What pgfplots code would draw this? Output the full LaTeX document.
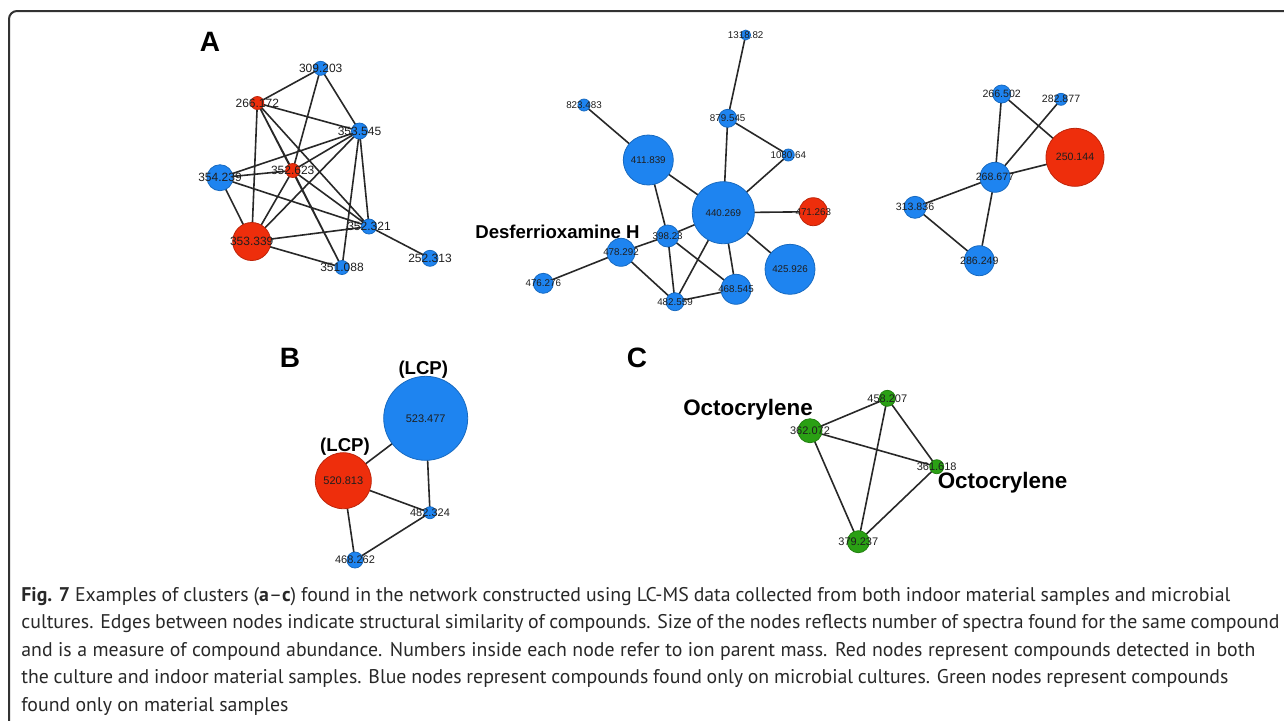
\documentclass[border=0pt]{standalone}
\usepackage{pgfplots}
\pgfplotsset{compat=1.18}
\usepackage{pgfplotstable}
\usepackage{fontspec}
\setmainfont{PT Sans}
\newfontfamily\netfont{Liberation Sans}

\definecolor{nodeblue}{RGB}{30,132,240}
\definecolor{nodered}{RGB}{238,46,12}
\definecolor{nodegreen}{RGB}{42,160,20}
\definecolor{edgegray}{RGB}{40,40,40}
\definecolor{labelgray}{RGB}{30,30,30}
\definecolor{framegray}{RGB}{50,50,50}
\definecolor{captiongray}{RGB}{40,40,40}

% node tables: position (px), radius (px), colour class (0 blue, 1 red, 2 green), parent mass
\pgfplotstableread{
x y r c label
320.7 68.3 7 0 309.203
257.3 103 6.5 1 266.172
359.5 131 8 0 353.545
220 177.7 13 0 354.239
292.7 170.5 7 1 352.623
369 226.5 7.5 0 352.321
251.7 241.5 19 1 353.339
342 267.5 7 0 351.088
430 258.3 8 0 252.313
}\clusterAone

\pgfplotstableread{
x y r c label
745.7 35 5 0 1318.82
584 105 6 0 823.483
727.7 118.3 9 0 879.545
788.3 155 6 0 1080.64
648.3 160 25 0 411.839
723.3 212.7 31 0 440.269
813.3 211.7 14 1 471.263
667.7 236 11 0 398.23
621 252.3 14 0 478.292
543.3 283.3 10 0 476.276
675 301.7 9 0 482.559
736 289.3 15 0 468.545
790 269.3 25 0 425.926
}\clusterAtwo

\pgfplotstableread{
x y r c label
1001.7 94 9 0 266.502
1061 99.3 6 0 282.877
1075 157.3 29 1 250.144
995 177.3 15 0 268.677
915 207.3 11 0 313.836
979.3 260.7 15 0 286.249
}\clusterAthree

\pgfplotstableread{
x y r c label
425.7 418.3 42 0 523.477
343.3 480.7 28 1 520.813
430 512.7 6 0 482.324
355 560 8 0 468.262
}\clusterB

\pgfplotstableread{
x y r c label
887.3 398.3 8 2 458.207
810 430.7 12 2 362.072
936.7 466.7 7 2 361.618
858.3 541.7 11 2 379.237
}\clusterC

\pgfplotsset{
  edge/.style={draw=edgegray, line width=0.8pt, no marks, forget plot},
  netnodes/.style={
    scatter, only marks, mark=*,
    point meta=\thisrow{c},
    visualization depends on={0.5*\thisrow{r} \as \rad},
    scatter/@pre marker code/.append style={/tikz/mark size=\rad},
    forget plot,
  },
  netlabels/.style={
    draw=none, no marks, forget plot,
    point meta=explicit symbolic,
    nodes near coords,
    every node near coord/.style={anchor=center, inner sep=0pt,
      text=labelgray, font=\netfont\fontsize{#1}{#1}\selectfont},
  },
}

\begin{document}
\begin{tikzpicture}
\begin{axis}[
  name=ax,
  width=642pt, height=360pt, scale only axis,
  xmin=0, xmax=1284, ymin=0, ymax=720,
  y dir=reverse,
  hide axis, clip=false,
  unbounded coords=jump,
  colormap={net}{rgb255(0)=(30,132,240) rgb255(1)=(238,46,12) rgb255(2)=(42,160,20)},
  point meta min=0, point meta max=2,
]
% frame
\draw[line width=1pt, draw=framegray, rounded corners=4pt]
  (axis cs:9,740) -- (axis cs:9,11) -- (axis cs:1300,11);

% ---- cluster A (left) edges
\addplot[edge] coordinates {
(320.7,68.3) (257.3,103) (nan,nan)
(320.7,68.3) (359.5,131) (nan,nan)
(320.7,68.3) (292.7,170.5) (nan,nan)
(257.3,103) (359.5,131) (nan,nan)
(257.3,103) (251.7,241.5) (nan,nan)
(257.3,103) (292.7,170.5) (nan,nan)
(257.3,103) (369,226.5) (nan,nan)
(257.3,103) (342,267.5) (nan,nan)
(359.5,131) (220,177.7) (nan,nan)
(359.5,131) (292.7,170.5) (nan,nan)
(359.5,131) (251.7,241.5) (nan,nan)
(359.5,131) (369,226.5) (nan,nan)
(359.5,131) (342,267.5) (nan,nan)
(220,177.7) (292.7,170.5) (nan,nan)
(220,177.7) (369,226.5) (nan,nan)
(220,177.7) (251.7,241.5) (nan,nan)
(292.7,170.5) (251.7,241.5) (nan,nan)
(292.7,170.5) (369,226.5) (nan,nan)
(292.7,170.5) (342,267.5) (nan,nan)
(251.7,241.5) (369,226.5) (nan,nan)
(251.7,241.5) (342,267.5) (nan,nan)
(369,226.5) (430,258.3)
};
% ---- cluster A (middle) edges
\addplot[edge] coordinates {
(745.7,35) (727.7,118.3) (nan,nan)
(584,105) (648.3,160) (nan,nan)
(727.7,118.3) (723.3,212.7) (nan,nan)
(727.7,118.3) (788.3,155) (nan,nan)
(788.3,155) (723.3,212.7) (nan,nan)
(648.3,160) (723.3,212.7) (nan,nan)
(648.3,160) (667.7,236) (nan,nan)
(723.3,212.7) (813.3,211.7) (nan,nan)
(723.3,212.7) (790,269.3) (nan,nan)
(723.3,212.7) (667.7,236) (nan,nan)
(723.3,212.7) (736,289.3) (nan,nan)
(723.3,212.7) (675,301.7) (nan,nan)
(667.7,236) (621,252.3) (nan,nan)
(667.7,236) (675,301.7) (nan,nan)
(667.7,236) (736,289.3) (nan,nan)
(621,252.3) (543.3,283.3) (nan,nan)
(621,252.3) (675,301.7) (nan,nan)
(675,301.7) (736,289.3)
};
% ---- cluster A (right) edges
\addplot[edge] coordinates {
(1001.7,94) (995,177.3) (nan,nan)
(1001.7,94) (1075,157.3) (nan,nan)
(1061,99.3) (995,177.3) (nan,nan)
(995,177.3) (1075,157.3) (nan,nan)
(995,177.3) (915,207.3) (nan,nan)
(995,177.3) (979.3,260.7) (nan,nan)
(915,207.3) (979.3,260.7)
};
% ---- cluster B edges
\addplot[edge] coordinates {
(425.7,418.3) (343.3,480.7) (nan,nan)
(425.7,418.3) (430,512.7) (nan,nan)
(343.3,480.7) (430,512.7) (nan,nan)
(343.3,480.7) (355,560) (nan,nan)
(430,512.7) (355,560)
};
% ---- cluster C edges
\addplot[edge] coordinates {
(887.3,398.3) (810,430.7) (nan,nan)
(887.3,398.3) (936.7,466.7) (nan,nan)
(887.3,398.3) (858.3,541.7) (nan,nan)
(810,430.7) (936.7,466.7) (nan,nan)
(810,430.7) (858.3,541.7) (nan,nan)
(936.7,466.7) (858.3,541.7)
};

% ---- nodes
\addplot[netnodes] table[x=x, y=y] {\clusterAone};
\addplot[netnodes] table[x=x, y=y] {\clusterAtwo};
\addplot[netnodes] table[x=x, y=y] {\clusterAthree};
\addplot[netnodes] table[x=x, y=y] {\clusterB};
\addplot[netnodes] table[x=x, y=y] {\clusterC};

% ---- parent masses
\addplot[netlabels=6] table[x=x, y=y, meta=label] {\clusterAone};
\addplot[netlabels=4.9] table[x=x, y=y, meta=label] {\clusterAtwo};
\addplot[netlabels=5.3] table[x=x, y=y, meta=label] {\clusterAthree};
\addplot[netlabels=5.5] table[x=x, y=y, meta=label] {\clusterB};
\addplot[netlabels=5.5] table[x=x, y=y, meta=label] {\clusterC};

% ---- panel letters and compound names
\begin{scope}[every node/.style={text=black, inner sep=0pt}]
\node[font=\netfont\bfseries\fontsize{14}{14}\selectfont] at (axis cs:210,42) {A};
\node[font=\netfont\bfseries\fontsize{14}{14}\selectfont] at (axis cs:290,358) {B};
\node[font=\netfont\bfseries\fontsize{14}{14}\selectfont] at (axis cs:637,358) {C};
\node[font=\netfont\bfseries\fontsize{9.3}{9.3}\selectfont] at (axis cs:557.5,232) {Desferrioxamine H};
\node[font=\netfont\bfseries\fontsize{9.3}{9.3}\selectfont] at (axis cs:423.3,369.5) {(LCP)};
\node[font=\netfont\bfseries\fontsize{9.3}{9.3}\selectfont] at (axis cs:345,447) {(LCP)};
\node[font=\netfont\bfseries\fontsize{11.2}{11.2}\selectfont] at (axis cs:748,410) {Octocrylene};
\node[font=\netfont\bfseries\fontsize{11.2}{11.2}\selectfont] at (axis cs:1002.5,483) {Octocrylene};
\end{scope}

% ---- caption, one node per printed line
\begin{scope}[every node/.style={anchor=base west, inner sep=0pt, text=captiongray,
    font=\fontsize{9.9}{12}\selectfont}]
\node at (axis cs:21,601.7) {\makebox[604.5pt][s]{\textbf{Fig. 7} Examples of clusters (\textbf{a}--\textbf{c}) found in the network constructed using LC-MS data collected from both indoor material samples and microbial}};
\node at (axis cs:21,628.8) {\makebox[629pt][s]{cultures. Edges between nodes indicate structural similarity of compounds. Size of the nodes reflects number of spectra found for the same compound}};
\node at (axis cs:21,656.4) {\makebox[617pt][s]{and is a measure of compound abundance. Numbers inside each node refer to ion parent mass. Red nodes represent compounds detected in both}};
\node at (axis cs:21,683.6) {\makebox[603.5pt][s]{the culture and indoor material samples. Blue nodes represent compounds found only on microbial cultures. Green nodes represent compounds}};
\node at (axis cs:21,711) {found only on material samples};
\end{scope}
\end{axis}
\pgfresetboundingbox
\useasboundingbox (ax.south west) rectangle (ax.north east);
\end{tikzpicture}
\end{document}
